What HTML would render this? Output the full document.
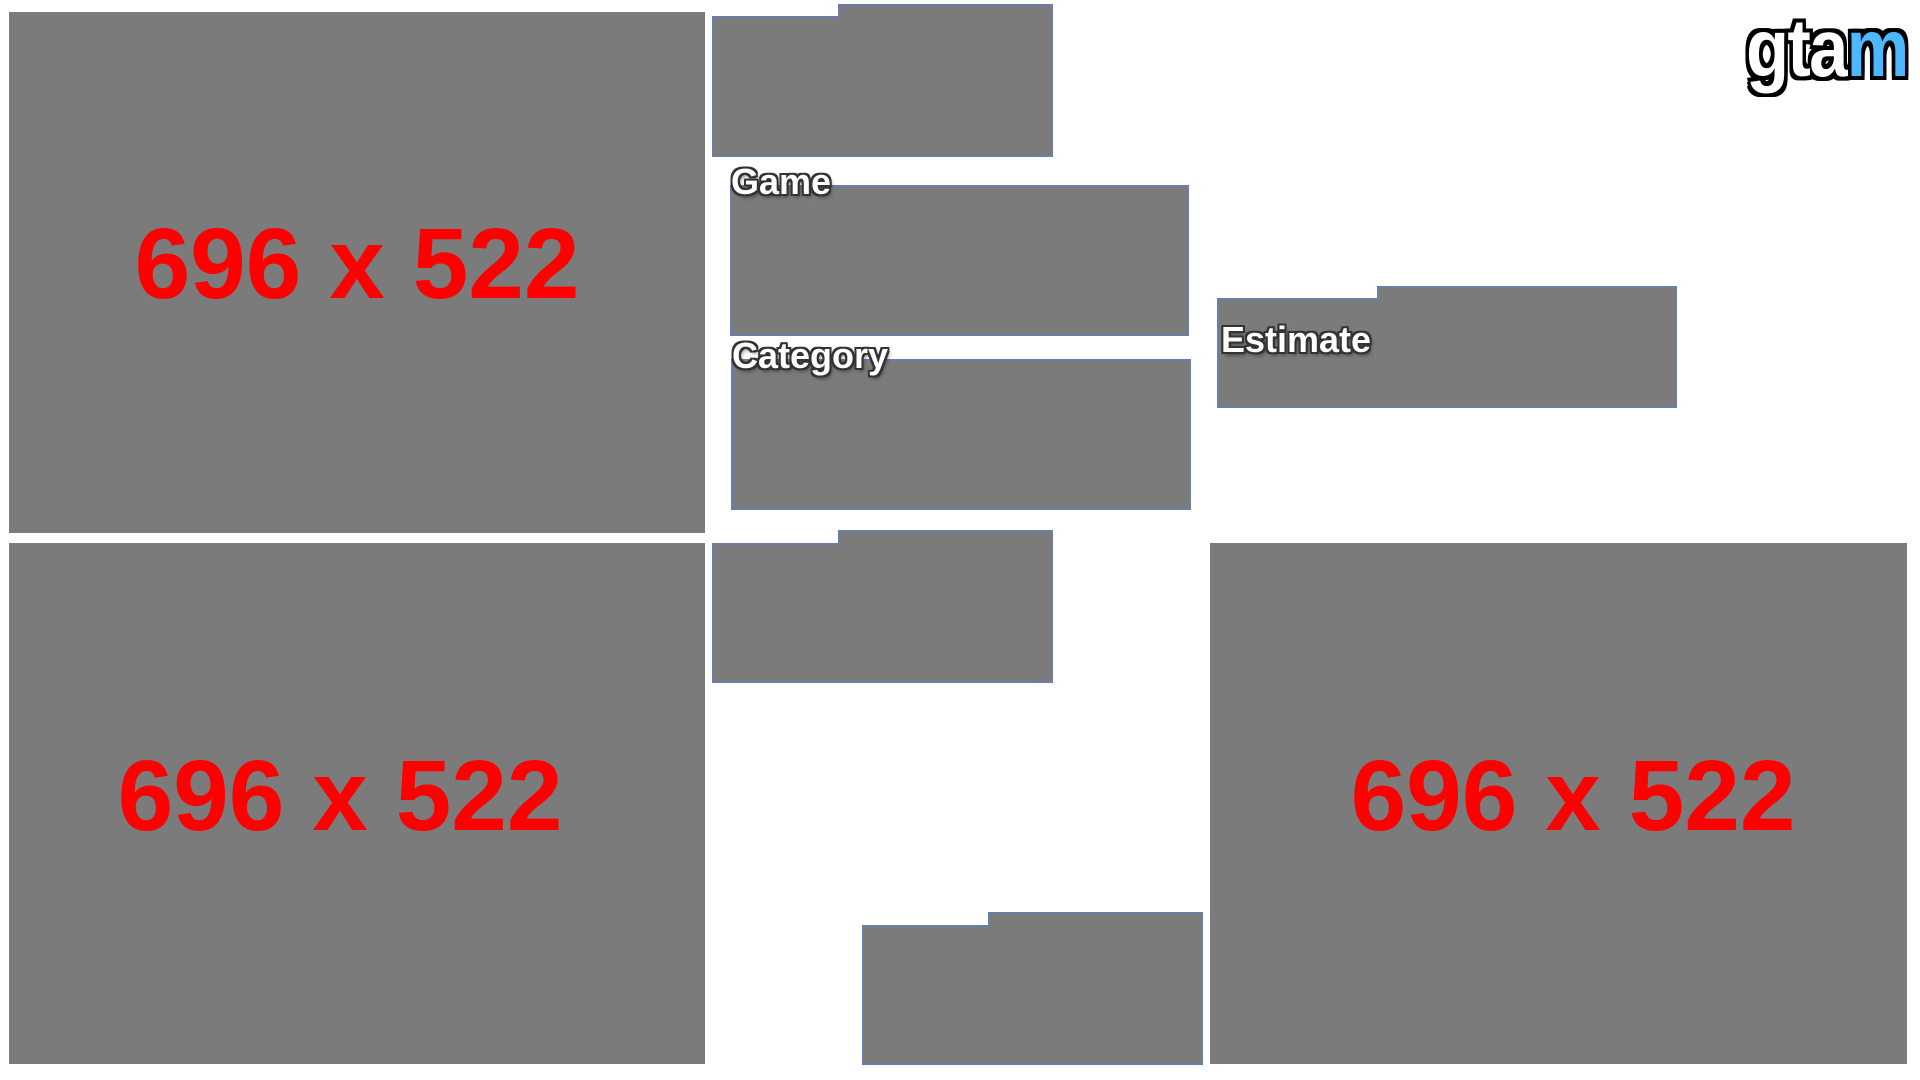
<!DOCTYPE html>
<html><head><meta charset="utf-8"><style>
html,body{margin:0;padding:0;background:#fff;width:1920px;height:1080px;overflow:hidden;font-family:"Liberation Sans",sans-serif}
.big{position:absolute;background:#7b7b7b;}
.big span{position:absolute;color:#ff0000;font-weight:bold;font-size:100px;line-height:1;white-space:nowrap;transform:translate(-50%,-50%)}
.lbl{position:absolute;font-weight:bold;color:#fff;text-shadow:-2px -2px 0 #333,2px -2px 0 #333,-2px 2px 0 #333,2px 2px 0 #333,0 2px 0 #333,0 -2px 0 #333,2px 0 0 #333,-2px 0 0 #333,2px 3px 4px rgba(0,0,0,.5);line-height:1;white-space:nowrap}
svg{position:absolute;left:0;top:0}
</style></head><body>
<div class="big" style="left:9px;top:12px;width:696px;height:521px"><span style="left:348px;top:252px">696 x 522</span></div>
<div class="big" style="left:9px;top:543px;width:696px;height:521px"><span style="left:331px;top:253px">696 x 522</span></div>
<div class="big" style="left:1210px;top:543px;width:697px;height:521px"><span style="left:363px;top:253px">696 x 522</span></div>
<svg width="1920" height="1080">
 <g>
  <path d="M713 17 H839 V5 H1052 V156 H713 Z" fill="#7b7b7b" stroke="#6a7fa8" stroke-width="2"/>
 </g>
 <g>
  <rect x="731" y="186" width="457" height="149" fill="#7b7b7b" stroke="#6a7fa8" stroke-width="2"/>
 </g>
 <g>
  <rect x="732" y="360" width="458" height="149" fill="#7b7b7b" stroke="#6a7fa8" stroke-width="2"/>
 </g>
 <g>
  <path d="M1218 299 H1378 V287 H1676 V407 H1218 Z" fill="#7b7b7b" stroke="#6a7fa8" stroke-width="2"/>
 </g>
 <g>
  <path d="M713 544 H839 V531 H1052 V682 H713 Z" fill="#7b7b7b" stroke="#6a7fa8" stroke-width="2"/>
 </g>
 <g>
  <path d="M863 926 H989 V913 H1202 V1064 H863 Z" fill="#7b7b7b" stroke="#6a7fa8" stroke-width="2"/>
 </g>
</svg>
<div class="lbl" style="left:731px;top:164px;font-size:36px">Game</div>
<div class="lbl" style="left:732px;top:338px;font-size:36px">Category</div>
<div class="lbl" style="left:1221px;top:322px;font-size:36px">Estimate</div>
<div class="lbl" style="left:1746px;top:8px;font-size:82px;letter-spacing:-2px;transform:scaleX(0.86);transform-origin:left;text-shadow:-4px -4px 0 #000,4px -4px 0 #000,-4px 4px 0 #000,4px 4px 0 #000,0 4px 0 #000,0 -4px 0 #000,4px 0 0 #000,-4px 0 0 #000">gta<span style="color:#4db8ff">m</span></div>
</body></html>
